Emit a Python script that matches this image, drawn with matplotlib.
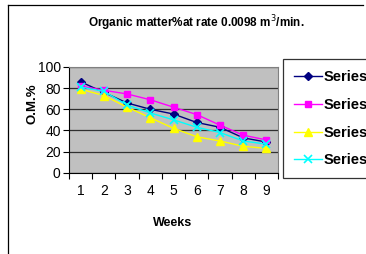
import matplotlib
matplotlib.use("Agg")
import matplotlib.pyplot as plt
from matplotlib.lines import Line2D
import numpy as np

weeks = [1, 2, 3, 4, 5, 6, 7, 8, 9]
series1 = [86, 76, 66, 60, 55.5, 47.5, 43, 33, 29]
series2 = [82, 78, 74.5, 69, 62, 55, 45, 35.5, 31]
series3 = [79, 73, 62, 52, 42, 34, 30, 25, 23]
series4 = [81, 77, 64, 56.5, 50, 43, 38, 30, 27]
labels = ["Series1", "Series2", "Series3", "Series4"]
yticks = [0, 20, 40, 60, 80, 100]

plt.rcParams['font.family'] = ['Liberation Sans', 'DejaVu Sans']

W, H = 366, 254
fig = plt.figure(figsize=(W / 100, H / 100), dpi=100)
fig.patch.set_facecolor('white')

def fx(px):
    return px / W

def fy(py):
    return 1 - py / H

# outer chart border
fig.add_artist(Line2D([fx(8), fx(8)], [fy(5), fy(254)], color='black', lw=0.9))
fig.add_artist(Line2D([fx(8), fx(363)], [fy(5), fy(5)], color='black', lw=0.9))

left, right, top, bottom = 69, 278, 67, 172.7
ax = fig.add_axes([fx(left), fy(bottom), (right - left) / W, (bottom - top) / H])
ax.set_facecolor('#C0C0C0')

styles = [
    dict(color='#000080', marker='D', ms=4.5),
    dict(color='#FF00FF', marker='s', ms=5),
    dict(color='#FFFF00', marker='^', ms=6),
    dict(color='#00FFFF', marker='x', ms=5.5, mew=1.2),
]
data = [series1, series2, series3, series4]
handles = []
for vals, st, lab in zip(data, styles, labels):
    h, = ax.plot(weeks, vals, lw=1.0, label=lab, zorder=3, **st)
    handles.append(h)

ax.set_xlim(0.5, 9.5)
ax.set_ylim(0, 100)
ax.set_yticks(yticks)
ax.set_xticks(weeks)
ax.set_xticks(np.arange(0.5, 10, 1), minor=True)
ax.tick_params(axis='x', which='major', length=0, labelsize=10, pad=8)
ax.tick_params(axis='x', which='minor', length=4, width=0.8, direction='out')
ax.tick_params(axis='y', length=4, width=0.8, labelsize=10, pad=2)
ax.yaxis.grid(True, color='#303030', lw=0.9)
ax.set_axisbelow(True)
for s in ['top', 'right']:
    ax.spines[s].set_color('#808080')
    ax.spines[s].set_linewidth(0.8)
for s in ['left', 'bottom']:
    ax.spines[s].set_color('black')
    ax.spines[s].set_linewidth(0.8)

fig.text(fx(196), fy(23), "Organic matter%at rate 0.0098 m$^3$/min.",
         ha='center', va='center', fontsize=8.5, fontweight='bold')
fig.text(fx(173), fy(223), "Weeks", ha='center', va='center',
         fontsize=9, fontweight='bold')
fig.text(fx(32), fy(104), "O.M.%", ha='center', va='center', rotation=90,
         fontsize=9.5, fontweight='bold')

leg = fig.legend(handles=handles, labels=labels, loc='upper left',
                 bbox_to_anchor=(fx(283), fy(59)), frameon=True, fancybox=False,
                 edgecolor='black', handlelength=1.9,
                 labelspacing=0.95, borderpad=0.75, borderaxespad=0,
                 handletextpad=0.15,
                 prop={'weight': 'bold', 'size': 10.5})
leg.get_frame().set_linewidth(0.9)

fig.savefig("out.png", dpi=100)
